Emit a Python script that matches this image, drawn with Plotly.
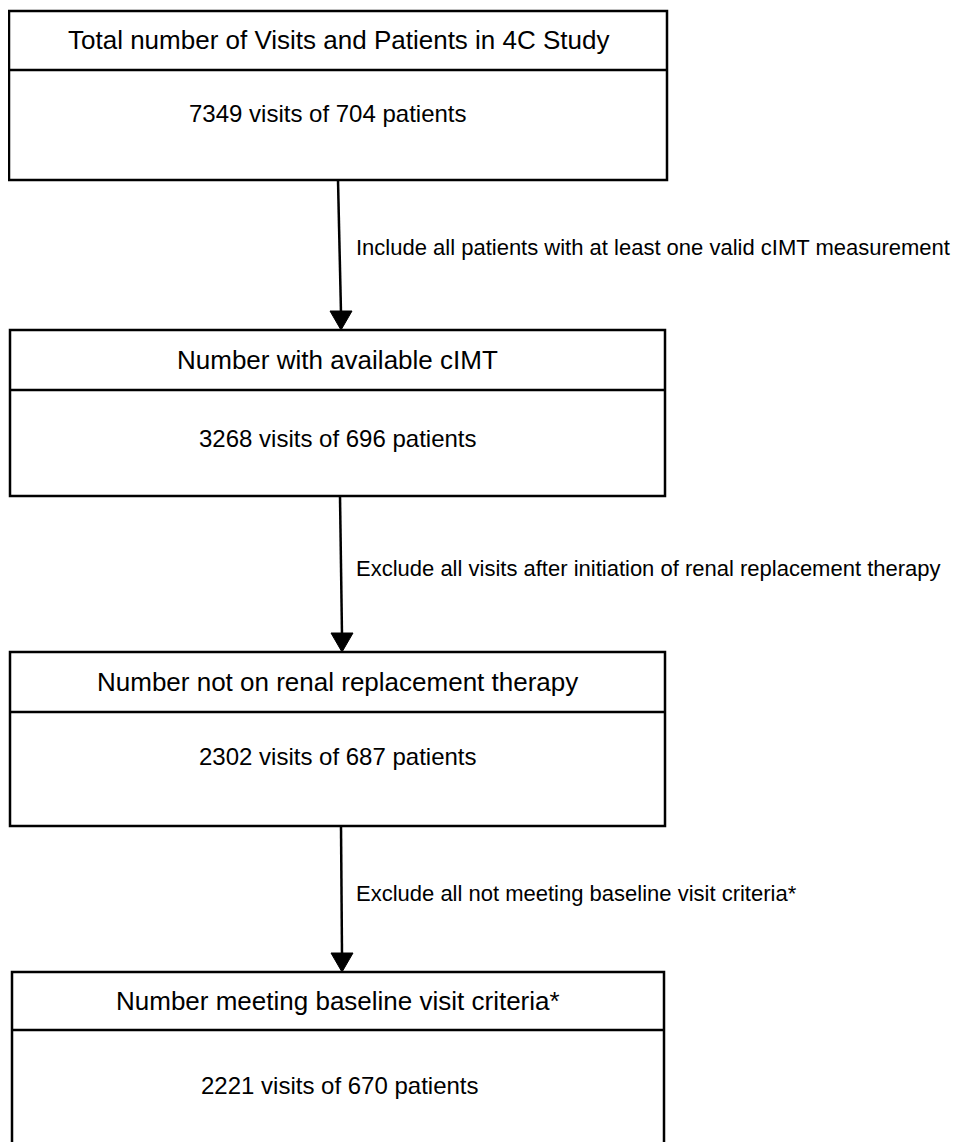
import plotly.graph_objects as go

# ---- data ----
box_titles = [
    "Total number of Visits and Patients in 4C Study",
    "Number with available cIMT",
    "Number not on renal replacement therapy",
    "Number meeting baseline visit criteria*",
]
visits = [7349, 3268, 2302, 2221]
patients = [704, 696, 687, 670]
step_labels = [
    "Include all patients with at least one valid cIMT measurement",
    "Exclude all visits after initiation of renal replacement therapy",
    "Exclude all not meeting baseline visit criteria*",
]

# ---- layout constants (screen pixels) ----
W, H = 962, 1142
OFF = 8  # default page body margin
box_top = [11, 330, 652, 972]
box_bot = [180, 496, 826, 1170]
box_div = [70, 390, 712, 1030]
box_left = [9, 10, 10, 12]
box_right = [667, 665, 665, 664]
title_y = [40, 360, 682, 1001]
body_y = [113, 438, 756, 1085]
body_dx = [-10, 0, 0, 2]
label_y = [247, 568, 893]
arrow_x_top = [338, 340, 341]
arrow_x_bot = [341, 342, 342]
HEAD_W, HEAD_L = 22, 19
FONT = "Liberation Sans, Arial, Helvetica, sans-serif"
LW = 2.5

fig = go.Figure()
shapes = []
annotations = []

for i, title in enumerate(box_titles):
    l, r, t, b, d = box_left[i], box_right[i], box_top[i], box_bot[i], box_div[i]
    shapes.append(dict(type="rect", x0=l, x1=r, y0=t, y1=b, xref="x", yref="y",
                       line=dict(color="#000", width=LW), fillcolor="rgba(0,0,0,0)"))
    shapes.append(dict(type="line", x0=l, x1=r, y0=d, y1=d, xref="x", yref="y",
                       line=dict(color="#000", width=LW)))
    cx = (l + r) / 2
    annotations.append(dict(x=cx, y=title_y[i], text=title, showarrow=False,
                            xref="x", yref="y", font=dict(size=26, color="#000", family=FONT)))
    annotations.append(dict(x=cx + body_dx[i], y=body_y[i],
                            text=f"{visits[i]} visits of {patients[i]} patients", showarrow=False,
                            xref="x", yref="y", font=dict(size=24, color="#000", family=FONT)))

for i, lab in enumerate(step_labels):
    y0 = box_bot[i]
    tip = box_top[i + 1]
    x0, x1 = arrow_x_top[i], arrow_x_bot[i]
    fig.add_trace(go.Scatter(x=[x0, x1], y=[y0, tip - HEAD_L + 2], mode="lines",
                             line=dict(color="#000", width=LW), hoverinfo="skip", showlegend=False))
    fig.add_trace(go.Scatter(x=[x1 - HEAD_W / 2, x1 + HEAD_W / 2, x1, x1 - HEAD_W / 2],
                             y=[tip - HEAD_L, tip - HEAD_L, tip, tip - HEAD_L],
                             mode="lines", fill="toself", fillcolor="#000",
                             line=dict(color="#000", width=1),
                             hoverinfo="skip", showlegend=False))
    annotations.append(dict(x=354, y=label_y[i], text=lab, showarrow=False,
                            xanchor="left", xref="x", yref="y",
                            font=dict(size=22, color="#000", family=FONT)))

fig.update_layout(
    width=W, height=H,
    margin=dict(l=0, r=0, t=0, b=0),
    paper_bgcolor="white", plot_bgcolor="white",
    xaxis=dict(range=[OFF, W + OFF], visible=False, fixedrange=True),
    yaxis=dict(range=[H + OFF, OFF], visible=False, fixedrange=True),
    shapes=shapes, annotations=annotations,
    showlegend=False,
)
fig.write_html("out.html")
